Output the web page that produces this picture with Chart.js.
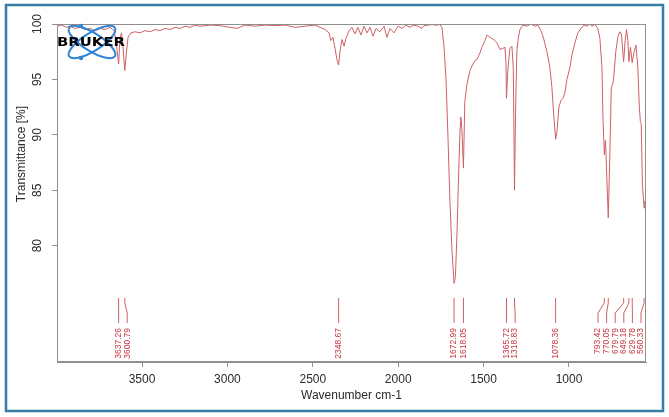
<!DOCTYPE html>
<html>
<head>
<meta charset="utf-8">
<script src="https://cdn.jsdelivr.net/npm/chart.js@4/dist/chart.umd.min.js"></script>
<style>
    html, body { margin: 0; padding: 0; background: #fff; }
    #wrap { width: 669px; height: 417px; }
</style>
</head>
<body>
<div id="wrap"><canvas id="chart-ir"></canvas></div>
<script>
// spectrum (wavenumber cm-1 / transmittance %)
const wavenumbers = [
    3998, 3969, 3945, 3922, 3893, 3863, 3834, 3805, 3775, 3746, 3717, 3688, 3664, 3653, 3637, 3629,
    3620, 3612, 3601, 3591, 3582, 3565, 3541, 3512, 3483, 3453, 3424, 3395, 3366, 3336, 3307, 3278,
    3248, 3219, 3190, 3161, 3102, 3044, 2985, 2944, 2897, 2839, 2780, 2722, 2663, 2604, 2546, 2487,
    2429, 2405, 2394, 2382, 2370, 2359, 2349, 2341, 2329, 2317, 2306, 2288, 2271, 2253, 2236, 2218,
    2200, 2183, 2165, 2148, 2130, 2107, 2083, 2066, 2048, 2025, 2001, 1978, 1955, 1931, 1908, 1884,
    1861, 1849, 1826, 1802, 1779, 1756, 1744, 1732, 1720, 1709, 1697, 1685, 1673, 1665, 1656, 1647,
    1639, 1633, 1627, 1618, 1610, 1598, 1580, 1562, 1551, 1539, 1521, 1510, 1492, 1480, 1463, 1451,
    1434, 1422, 1404, 1387, 1375, 1369, 1366, 1358, 1346, 1334, 1326, 1319, 1313, 1305, 1296, 1287,
    1270, 1246, 1223, 1199, 1182, 1164, 1147, 1129, 1112, 1100, 1088, 1078, 1071, 1059, 1047, 1035,
    1024, 1012, 994, 983, 965, 948, 930, 912, 895, 877, 866, 848, 831, 819, 807, 801,
    793, 786, 778, 770, 761, 752, 743, 738, 726, 714, 702, 693, 680, 671, 663, 655,
    649, 640, 630, 620, 608, 597, 588, 582, 577, 570, 560, 556, 550
];
const transmittance = [
    99.8, 99.9, 99.7, 99.8, 99.6, 99.7, 99.5, 99.6, 99.4, 99.6, 99.5, 99.7, 99.4, 98.5, 96.4, 98.8,
    99.2, 98.0, 95.8, 97.5, 98.8, 99.2, 99.3, 99.2, 99.4, 99.3, 99.5, 99.4, 99.6, 99.5, 99.7, 99.6,
    99.8, 99.7, 99.9, 99.8, 99.9, 99.85, 99.7, 99.6, 99.9, 99.8, 99.9, 99.85, 99.9, 99.7, 99.8, 99.9,
    99.5, 99.2, 98.5, 98.8, 97.8, 96.8, 96.3, 97.5, 98.6, 98.0, 98.7, 99.4, 99.7, 99.1, 99.7, 99.0,
    99.8, 99.2, 99.7, 98.9, 99.6, 99.3, 99.8, 98.8, 99.6, 99.2, 99.8, 99.6, 99.9, 99.7, 99.9, 99.8,
    99.6, 99.85, 99.9, 99.95, 99.9, 99.95, 99.7, 98.0, 95.0, 90.0, 84.0, 79.5, 76.6, 77.2, 81.0, 86.0,
    90.0, 91.6, 90.5, 87.0, 93.0, 94.5, 95.8, 96.4, 96.7, 96.8, 97.4, 97.9, 98.5, 99.0, 98.8, 98.7,
    98.5, 98.3, 97.7, 97.8, 97.9, 96.5, 93.3, 95.8, 97.8, 98.0, 96.0, 85.0, 92.0, 97.6, 98.8, 99.5,
    99.9, 99.8, 100, 99.8, 99.9, 99.4, 98.6, 97.5, 96.1, 94.3, 91.5, 89.6, 90.2, 92.5, 93.1, 93.3,
    93.8, 95.0, 96.1, 97.2, 98.3, 99.2, 99.6, 99.9, 99.8, 100, 99.8, 99.95, 99.6, 98.7, 96.1, 91.5,
    88.2, 89.5, 86.0, 82.5, 88.0, 94.3, 94.6, 95.2, 97.5, 98.8, 99.3, 99.1, 96.6, 98.5, 99.5, 98.5,
    96.6, 97.9, 96.5, 97.4, 98.1, 96.1, 92.5, 91.2, 91.0, 85.5, 83.4, 84.0, 83.5
];
const peakLabels = [3637.26, 3600.79, 2348.67, 1672.99, 1618.05, 1365.72, 1318.83, 1078.36,
    793.42, 770.05, 679.79, 649.18, 629.78, 560.33];
const xTicks = [3500, 3000, 2500, 2000, 1500, 1000];
const yTicks = [80, 85, 90, 95, 100];

const axisGrey = '#8f8f8f';
const lineRed = 'rgb(206, 96, 100)';
const labelRed = 'rgb(198, 52, 62)';
const tickFont = '12px "Liberation Sans", Arial, sans-serif';

const points = wavenumbers.map((w, i) => ({ x: w, y: transmittance[i] }));

// frame, box, rotated y labels, peak picks, logo
const irDecor = {
    id: 'irDecor',
    afterDraw(chart) {
        const ctx = chart.ctx;
        const area = chart.chartArea;
        const xs = chart.scales.x;
        const ys = chart.scales.y;
        ctx.save();

        // plot box
        ctx.strokeStyle = axisGrey;
        ctx.lineWidth = 1;
        ctx.strokeRect(area.left + 0.5, area.top + 0.5, area.width - 1, area.height - 1);

        // y tick labels, turned
        ctx.fillStyle = '#2b2b2b';
        ctx.font = tickFont;
        ctx.textAlign = 'center';
        ctx.textBaseline = 'middle';
        ys.ticks.forEach(t => {
            ctx.save();
            ctx.translate(area.left - 19, ys.getPixelForValue(t.value));
            ctx.rotate(-Math.PI / 2);
            ctx.fillText(String(t.value), 0, 0);
            ctx.restore();
        });
        ctx.save();
        ctx.translate(22, 154);
        ctx.rotate(-Math.PI / 2);
        ctx.fillText('Transmittance [%]', 0, 0);
        ctx.restore();

        // peak picks
        const px = peakLabels.map(w => xs.getPixelForValue(w));
        const lx = px.slice();
        const gap = 8.6;
        for (let i = 1; i < lx.length; i++) lx[i] = Math.max(lx[i], lx[i - 1] + gap);
        lx[lx.length - 1] = Math.min(lx[lx.length - 1], area.right - 5);
        for (let i = lx.length - 2; i >= 0; i--) lx[i] = Math.min(lx[i], lx[i + 1] - gap);
        const b = area.bottom;
        ctx.strokeStyle = lineRed;
        ctx.fillStyle = labelRed;
        ctx.font = '8.5px "Liberation Sans", Arial, sans-serif';
        ctx.textAlign = 'right';
        ctx.textBaseline = 'middle';
        peakLabels.forEach((w, i) => {
            ctx.beginPath();
            ctx.moveTo(px[i], b - 64);
            ctx.lineTo(px[i], b - 59);
            ctx.lineTo(lx[i], b - 49);
            ctx.lineTo(lx[i], b - 39);
            ctx.stroke();
            ctx.save();
            ctx.translate(lx[i], b - 34);
            ctx.rotate(-Math.PI / 2);
            ctx.fillText(w.toFixed(2), 0, 0);
            ctx.restore();
        });

        // logo
        ctx.strokeStyle = '#2f84d6';
        ctx.lineWidth = 2;
        [0.56, -0.56].forEach(a => {
            ctx.beginPath();
            ctx.ellipse(92, 42, 27, 9, a, 0, Math.PI * 2);
            ctx.stroke();
        });
        ctx.fillStyle = '#2f84d6';
        [[81, 26], [81, 58]].forEach(p => {
            ctx.beginPath();
            ctx.arc(p[0], p[1], 2.2, 0, Math.PI * 2);
            ctx.fill();
        });
        ctx.fillStyle = '#000';
        ctx.font = 'bold 12px "DejaVu Sans", sans-serif';
        ctx.textAlign = 'left';
        const tw = ctx.measureText('BRUKER').width;
        ctx.save();
        ctx.translate(57, 43);
        ctx.scale(68 / tw, 1);
        ctx.fillText('BRUKER', 0, 0);
        ctx.restore();

        // outer frame
        ctx.strokeStyle = '#3a7ca8';
        ctx.lineWidth = 2.5;
        ctx.strokeRect(6, 5, chart.width - 12, chart.height - 11);
        ctx.restore();
    }
};

const config = {
    type: 'line',
    data: {
        datasets: [{
            label: 'IR',
            data: points,
            borderColor: lineRed,
            borderWidth: 1,
            pointRadius: 0,
            tension: 0,
            fill: false
        }]
    },
    options: {
        animation: false,
        responsive: true,
        maintainAspectRatio: false,
        layout: { padding: { top: 24, right: 23, bottom: 14, left: 0 } },
        plugins: {
            legend: { display: false },
            tooltip: { enabled: false }
        },
        scales: {
            x: {
                type: 'linear',
                reverse: true,
                min: 549,
                max: 3998,
                afterBuildTicks: s => { s.ticks = xTicks.map(v => ({ value: v })); },
                afterFit: s => { s.height = 41; },
                grid: { drawOnChartArea: false, color: axisGrey, tickLength: 5 },
                border: { color: axisGrey },
                ticks: {
                    color: '#2b2b2b',
                    font: { family: 'Liberation Sans', size: 12 },
                    padding: 5,
                    maxRotation: 0,
                    callback: v => String(v)
                },
                title: {
                    display: true,
                    text: 'Wavenumber cm-1',
                    color: '#2b2b2b',
                    font: { family: 'Liberation Sans', size: 12 },
                    padding: { top: 2, bottom: 0 }
                }
            },
            y: {
                min: 69.5,
                max: 100,
                afterBuildTicks: s => { s.ticks = yTicks.map(v => ({ value: v })); },
                afterFit: s => { s.width = 57; },
                grid: { drawOnChartArea: false, color: axisGrey, tickLength: 5 },
                border: { color: axisGrey },
                ticks: { display: false }
            }
        }
    },
    plugins: [irDecor]
};

const chart_ir = new Chart(
    document.getElementById('chart-ir'),
    config
);
</script>
</body>
</html>
